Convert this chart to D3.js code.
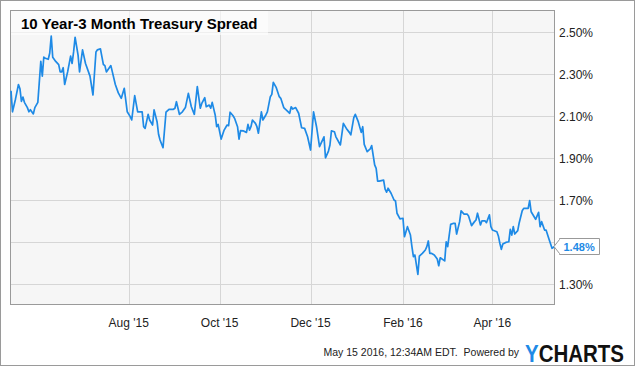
<!DOCTYPE html>
<html>
<head>
<meta charset="utf-8">
<script src="https://cdn.jsdelivr.net/npm/d3@7"></script>
<style>
body { margin: 0; background: #fff; }
svg { display: block; font-family: "Liberation Sans", Arial, sans-serif; }
</style>
</head>
<body>
<div id="chart"></div>
<script>
// 10y - 3m treasury spread
var dates = [
  "2015-05-14","2015-05-15","2015-05-17","2015-05-19","2015-05-20","2015-05-21","2015-05-22","2015-05-23",
  "2015-05-25","2015-05-26","2015-05-27","2015-05-29","2015-05-30","2015-06-01","2015-06-03","2015-06-04",
  "2015-06-05","2015-06-06","2015-06-08","2015-06-09","2015-06-10","2015-06-11","2015-06-13","2015-06-15",
  "2015-06-16","2015-06-17","2015-06-18","2015-06-19","2015-06-21","2015-06-23","2015-06-24","2015-06-25",
  "2015-06-26","2015-06-28","2015-06-29","2015-07-01","2015-07-03","2015-07-06","2015-07-08","2015-07-10",
  "2015-07-11","2015-07-13","2015-07-15","2015-07-16","2015-07-17","2015-07-20","2015-07-21","2015-07-23",
  "2015-07-25","2015-07-27","2015-07-29","2015-07-31","2015-08-02","2015-08-03","2015-08-05","2015-08-07",
  "2015-08-10","2015-08-11","2015-08-12","2015-08-14","2015-08-15","2015-08-17","2015-08-18","2015-08-20",
  "2015-08-21","2015-08-22","2015-08-24","2015-08-26","2015-08-28","2015-08-31","2015-09-01","2015-09-02",
  "2015-09-04","2015-09-06","2015-09-08","2015-09-10","2015-09-12","2015-09-14","2015-09-16","2015-09-18",
  "2015-09-19","2015-09-21","2015-09-22","2015-09-24","2015-09-25","2015-09-26","2015-09-28","2015-09-29",
  "2015-09-30","2015-10-02","2015-10-04","2015-10-06","2015-10-07","2015-10-08","2015-10-10","2015-10-11",
  "2015-10-13","2015-10-14","2015-10-15","2015-10-17","2015-10-19","2015-10-20","2015-10-21","2015-10-22",
  "2015-10-23","2015-10-25","2015-10-26","2015-10-27","2015-10-29","2015-10-30","2015-11-01","2015-11-02",
  "2015-11-04","2015-11-05","2015-11-06","2015-11-08","2015-11-10","2015-11-11","2015-11-13","2015-11-16",
  "2015-11-17","2015-11-18","2015-11-19","2015-11-21","2015-11-23","2015-11-25","2015-11-27","2015-11-29",
  "2015-12-01","2015-12-03","2015-12-05","2015-12-07","2015-12-08","2015-12-10","2015-12-11","2015-12-13",
  "2015-12-14","2015-12-15","2015-12-17","2015-12-18","2015-12-21","2015-12-23","2015-12-25","2015-12-27",
  "2015-12-28","2015-12-30","2015-12-31","2016-01-02","2016-01-04","2016-01-05","2016-01-06","2016-01-08",
  "2016-01-10","2016-01-11","2016-01-13","2016-01-14","2016-01-15","2016-01-16","2016-01-19","2016-01-20",
  "2016-01-21","2016-01-22","2016-01-24","2016-01-26","2016-01-27","2016-01-28","2016-01-30","2016-02-01",
  "2016-02-02","2016-02-04","2016-02-06","2016-02-07","2016-02-08","2016-02-09","2016-02-11","2016-02-12",
  "2016-02-14","2016-02-16","2016-02-17","2016-02-18","2016-02-19","2016-02-20","2016-02-22","2016-02-24",
  "2016-02-25","2016-02-26","2016-02-29","2016-03-01","2016-03-02","2016-03-04","2016-03-06","2016-03-07",
  "2016-03-08","2016-03-10","2016-03-11","2016-03-13","2016-03-15","2016-03-16","2016-03-18","2016-03-20",
  "2016-03-21","2016-03-22","2016-03-24","2016-03-25","2016-03-27","2016-03-28","2016-03-30","2016-03-31",
  "2016-04-01","2016-04-04","2016-04-05","2016-04-06","2016-04-07","2016-04-08","2016-04-10","2016-04-12",
  "2016-04-13","2016-04-14","2016-04-15","2016-04-16","2016-04-18","2016-04-19","2016-04-21","2016-04-22",
  "2016-04-25","2016-04-26","2016-04-27","2016-04-29","2016-04-30","2016-05-02","2016-05-03","2016-05-04",
  "2016-05-06","2016-05-07","2016-05-09","2016-05-11","2016-05-13"
];

var spread = [
  2.22, 2.12, 2.18, 2.25, 2.23, 2.17, 2.19, 2.165,
  2.14, 2.12, 2.13, 2.11, 2.14, 2.165, 2.36, 2.29,
  2.38, 2.375, 2.37, 2.40, 2.48, 2.38, 2.36, 2.345,
  2.31, 2.31, 2.33, 2.25, 2.31, 2.385, 2.35, 2.405,
  2.475, 2.39, 2.31, 2.415, 2.35, 2.29, 2.20, 2.405,
  2.415, 2.42, 2.345, 2.34, 2.31, 2.34, 2.31, 2.25,
  2.21, 2.184, 2.232, 2.12, 2.097, 2.081, 2.197, 2.12,
  2.12, 2.049, 2.041, 2.108, 2.081, 2.057, 2.129, 2.073,
  2.013, 1.986, 1.949, 2.118, 2.132, 2.132, 2.137, 2.168,
  2.108, 2.12, 2.14, 2.208, 2.144, 2.108, 2.24, 2.137,
  2.16, 2.187, 2.144, 2.152, 2.137, 2.165, 2.105, 2.049,
  2.06, 1.99, 2.033, 2.057, 2.054, 2.118, 2.101, 2.089,
  2.049, 1.99, 2.03, 2.029, 2.022, 2.06, 2.033, 2.049,
  2.081, 2.065, 2.049, 2.018, 2.12, 2.081, 2.105, 2.12,
  2.192, 2.203, 2.26, 2.235, 2.192, 2.184, 2.14, 2.12,
  2.113, 2.144, 2.133, 2.14, 2.113, 2.044, 2.041, 2.001,
  1.938, 2.12, 2.049, 1.954, 1.97, 2.001, 1.901, 1.933,
  1.962, 2.029, 2.025, 2.001, 1.962, 2.065, 2.041, 2.022,
  2.01, 2.092, 2.108, 2.073, 2.022, 2.049, 1.965, 1.93,
  1.943, 1.959, 1.867, 1.851, 1.79, 1.79, 1.795, 1.752,
  1.737, 1.756, 1.732, 1.70, 1.695, 1.637, 1.61, 1.613,
  1.525, 1.573, 1.533, 1.478, 1.43, 1.438, 1.346, 1.433,
  1.446, 1.462, 1.478, 1.505, 1.446, 1.446, 1.438, 1.419,
  1.387, 1.425, 1.41, 1.501, 1.478, 1.584, 1.589, 1.589,
  1.538, 1.597, 1.648, 1.633, 1.633, 1.624, 1.578, 1.597,
  1.605, 1.637, 1.581, 1.601, 1.601, 1.592, 1.629, 1.573,
  1.557, 1.549, 1.529, 1.494, 1.465, 1.49, 1.498, 1.501,
  1.56, 1.533, 1.573, 1.538, 1.554, 1.592, 1.649, 1.66,
  1.66, 1.697, 1.644, 1.62, 1.608, 1.641, 1.573, 1.597,
  1.557, 1.557, 1.513, 1.47, 1.48
];

var yTicks = [1.3, 1.5, 1.7, 1.9, 2.1, 2.3, 2.5];
var xTicks = ["2015-08-01", "2015-10-01", "2015-12-01", "2016-02-01", "2016-04-01"];
var title = "10 Year-3 Month Treasury Spread";
var stamp = "May 15 2016, 12:34AM EDT.  Powered by";

var width = 635, height = 366;
var plot = {left: 11, top: 11, right: 555, bottom: 305};
var blue = "#1e8ae6";

var parse = d3.timeParse("%Y-%m-%d");
var data = dates.map(function (d, i) { return {date: parse(d), value: spread[i]}; });

var x = d3.scaleTime()
  .domain(d3.extent(data, function (d) { return d.date; }))
  .range([plot.left, plot.right]);
var y = d3.scaleLinear()
  .domain([1.2, 2.6])
  .range([plot.bottom, plot.top]);

var svg = d3.select("#chart").append("svg")
  .attr("width", width)
  .attr("height", height);

// outer frame
svg.append("rect")
  .attr("x", 0.5).attr("y", 0.5)
  .attr("width", width - 1).attr("height", height - 1)
  .style("fill", "#fff")
  .style("stroke", "#9a9a9a");

// plot background
svg.append("rect")
  .attr("x", plot.left - 0.5).attr("y", plot.top - 0.5)
  .attr("width", plot.right - plot.left).attr("height", plot.bottom - plot.top)
  .style("fill", "#f6f6f6");

// grid
svg.append("g")
   .attr("class", "grid-y")
   .selectAll("line")
   .data(yTicks)
   .enter()
   .append("line")
   .attr("x1", plot.left)
   .attr("x2", plot.right)
   .attr("y1", function (d) { return Math.round(y(d)) + 0.5; })
   .attr("y2", function (d) { return Math.round(y(d)) + 0.5; })
   .style("stroke", "#d6d6d6");

svg.append("g")
   .attr("class", "grid-x")
   .selectAll("line")
   .data(xTicks.map(parse))
   .enter()
   .append("line")
   .attr("x1", function (d) { return Math.round(x(d)) + 0.5; })
   .attr("x2", function (d) { return Math.round(x(d)) + 0.5; })
   .attr("y1", plot.top)
   .attr("y2", plot.bottom)
   .style("stroke", "#d6d6d6");

// plot border
svg.append("rect")
  .attr("x", plot.left - 0.5).attr("y", plot.top - 0.5)
  .attr("width", plot.right - plot.left).attr("height", plot.bottom - plot.top)
  .style("fill", "none")
  .style("stroke", "#9a9a9a");

// the series
var line = d3.line()
  .x(function (d) { return x(d.date); })
  .y(function (d) { return y(d.value); });

svg.append("path")
  .datum(data)
  .attr("d", line)
  .style("fill", "none")
  .style("stroke", blue)
  .style("stroke-width", 1.7)
  .style("stroke-linejoin", "round");

// title box
svg.append("rect")
  .attr("x", plot.left).attr("y", plot.top)
  .attr("width", 257).attr("height", 24)
  .style("fill", "#fff")
  .style("opacity", 0.6);

svg.append("text")
  .attr("x", 21).attr("y", 28.5)
  .style("font-size", "15px")
  .style("font-weight", "bold")
  .style("fill", "#000")
  .text(title);

// last value flag
var last = data[data.length - 1];
var ly = Math.round(y(last.value)) + 0.5;
var bx0 = 559.5, bx1 = 599.5;

// y labels, skip the one hidden under the flag
svg.append("g")
   .attr("class", "y-labels")
   .selectAll("text")
   .data(yTicks.filter(function (t) { return Math.abs(y(t) - ly) > 12; }))
   .enter()
   .append("text")
   .attr("x", 559)
   .attr("y", function (d) { return y(d) + 4.5; })
   .style("font-size", "12px")
   .style("fill", "#222")
   .text(function (d) { return d3.format(".2f")(d) + "%"; });

svg.append("path")
  .attr("d", "M" + (x(last.date) - 1) + "," + ly +
             "L" + bx0 + "," + (ly - 7) +
             "L" + bx0 + "," + (ly - 8) +
             "L" + bx1 + "," + (ly - 8) +
             "L" + bx1 + "," + (ly + 8) +
             "L" + bx0 + "," + (ly + 8) +
             "L" + bx0 + "," + (ly + 7) + "Z")
  .style("fill", "#fff")
  .style("stroke", "#999");

svg.append("text")
  .attr("x", bx0 + 4).attr("y", ly + 4)
  .style("font-size", "11px")
  .style("font-weight", "bold")
  .style("fill", blue)
  .text(d3.format(".2f")(last.value) + "%");

// x labels
svg.append("g")
   .attr("class", "x-labels")
   .selectAll("text")
   .data(xTicks.map(parse))
   .enter()
   .append("text")
   .attr("x", function (d) { return x(d); })
   .attr("y", 327)
   .style("text-anchor", "middle")
   .style("font-size", "12px")
   .style("fill", "#222")
   .text(d3.timeFormat("%b '%y"));

// footer
svg.append("text")
  .attr("x", 519).attr("y", 356)
  .style("text-anchor", "end")
  .style("font-size", "10.5px")
  .style("fill", "#222")
  .style("white-space", "pre")
  .text(stamp);

var logo = svg.append("text")
  .attr("transform", "translate(525,362) scale(1,1.18)")
  .style("font-size", "20.5px")
  .style("font-weight", "bold");
logo.append("tspan").style("fill", blue).text("Y");
logo.append("tspan").style("fill", "#111").text("CHARTS");
</script>
</body>
</html>
